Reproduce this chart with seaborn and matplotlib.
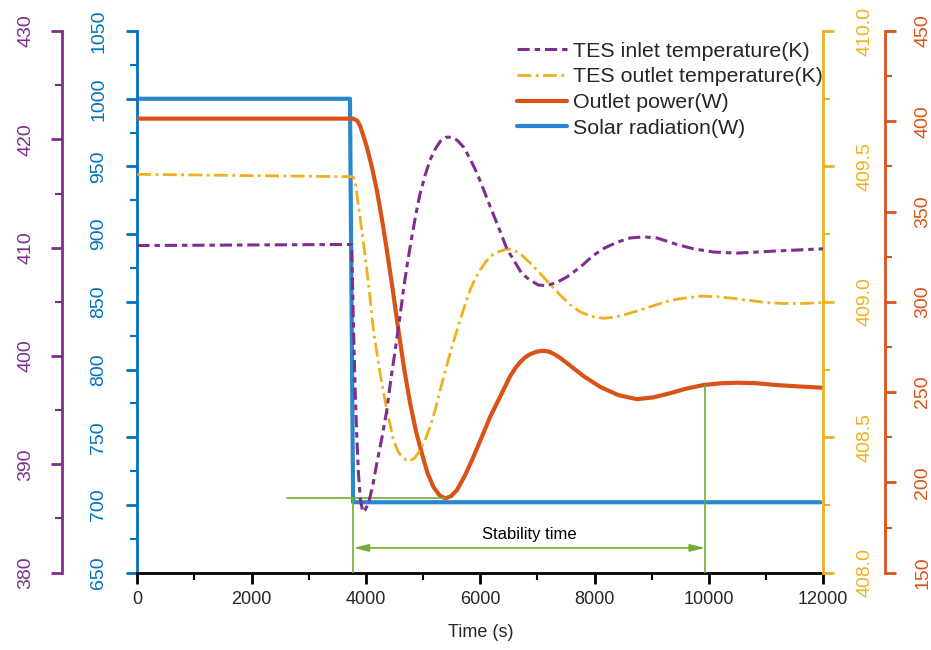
import matplotlib
matplotlib.use("Agg")
import matplotlib.pyplot as plt
from matplotlib import font_manager
from matplotlib.ticker import MultipleLocator, FormatStrFormatter
import seaborn as sns

# ---- data ----
t_solar = [0, 3720, 3775, 11950]
solar = [1000, 1000, 702, 702]

t_power = [0, 3770, 3810, 3850, 3897, 3950, 4014, 4102, 4190, 4277, 4365, 4469, 4568,
           4667, 4772, 4877, 4977, 5075, 5180, 5285, 5385, 5490, 5590, 5735, 5880, 6027,
           6172, 6347, 6440, 6522, 6610, 6697, 6785, 6872, 6975, 7077, 7180, 7280, 7400,
           7515, 7805, 8097, 8418, 8740, 9030, 9322, 9600, 9900, 10200, 10490, 10800,
           11190, 11600, 12000]
power = [401.5, 401.5, 401.0, 400.2, 397.5, 392.5, 385.9, 374.8, 361.9, 346.2, 328.7, 306.5, 284.3,
         263.1, 243.9, 228.0, 216.2, 205.3, 197.5, 192.9, 191.1, 192.4, 195.7, 204.0, 214.2, 225.2,
         236.3, 247.5, 253.5, 258.8, 263.2, 266.6, 269.3, 271.0, 272.3, 272.9, 272.6, 271.3, 268.9,
         266.1, 258.9, 252.9, 248.3, 246.1, 247.1, 249.4, 251.9, 253.9, 254.9, 255.2, 255.0,
         253.9, 253.1, 252.4]

t_inlet = [0, 3750, 3780, 3810, 3840, 3868, 3903, 3945, 3985, 4043, 4113, 4190, 4277, 4365,
           4434, 4510, 4586, 4655, 4726, 4802, 4877, 4947, 5035, 5122, 5210, 5297, 5402,
           5502, 5600, 5705, 5822, 5940, 6055, 6172, 6318, 6465, 6580, 6727, 6872, 7018,
           7165, 7340, 7515, 7747, 7980, 8185, 8390, 8622, 8855, 9090, 9322, 9440, 9730,
           10080, 10490, 11190, 12000]
inlet = [410.2, 410.3, 403.0, 396.9, 392.5, 389.2, 386.7, 385.6, 385.8, 386.4, 387.9, 390.1, 392.4, 395.0,
         397.8, 400.5, 403.3, 406.1, 408.6, 411.0, 413.2, 415.0, 416.7, 418.1, 419.1, 419.8, 420.2,
         420.2, 419.9, 419.3, 418.2, 416.9, 415.4, 413.8, 411.9, 409.9, 408.9, 407.6, 407.0, 406.55,
         406.5, 406.8, 407.3, 408.2, 409.3, 410.0, 410.5, 410.9, 411.0, 410.9, 410.5, 410.3, 409.9,
         409.6, 409.5, 409.7, 409.9]

t_outlet = [0, 3760, 3780, 3822, 3868, 3930, 3985, 4043, 4130, 4247, 4365, 4480, 4560, 4628,
            4700, 4772, 4860, 4947, 5035, 5122, 5210, 5297, 5385, 5472, 5560, 5647, 5735,
            5822, 5910, 5997, 6085, 6172, 6260, 6347, 6435, 6522, 6640, 6755, 6900, 7047,
            7220, 7397, 7570, 7747, 7950, 8155, 8360, 8565, 8770, 8972, 9147, 9322, 9500,
            9847, 10140, 10430, 10720, 11015, 11300, 11597, 12000]
outlet = [409.471, 409.462, 409.46, 409.43, 409.355, 409.26, 409.17, 409.07, 408.896, 408.736,
          408.600, 408.490, 408.448, 408.428, 408.416, 408.413, 408.425, 408.453, 408.49, 408.539,
          408.60, 408.674, 408.742, 408.810, 408.873, 408.933, 408.99, 409.044, 409.085, 409.117,
          409.145, 409.167, 409.180, 409.187, 409.193, 409.195, 409.185, 409.167, 409.138, 409.105,
          409.065, 409.025, 408.990, 408.963, 408.946, 408.939, 408.944, 408.955, 408.968, 408.982,
          408.994, 409.005, 409.012, 409.021, 409.019, 409.013, 409.005, 408.997, 408.994, 408.994,
          408.997]

# stability-time marker (seconds, outlet-power values)
t_stable_start = 3780
t_stable_end = 9935
t_ref_line = [2615, 5385]

# colours
purple = "#7E2F8E"
blue = "#0072BD"
blue_line = "#2887CD"
yellow = "#EDB120"
orange = "#D95319"
green = "#77AC30"

sns.set_style("ticks")
plt.rcParams["font.family"] = ["Liberation Sans", "DejaVu Sans"]
names = {f.name for f in font_manager.fontManager.ttflist}
narrow = "Liberation Sans Narrow" if "Liberation Sans Narrow" in names else "Liberation Sans"

fig = plt.figure(figsize=(9.31, 6.5), dpi=100)
ax = fig.add_axes([0.1475, 0.119, 0.7368, 0.8332])
ax_o = ax.twinx()
ax_y = ax.twinx()
ax_p = ax.twinx()

# lines
sns.lineplot(x=t_solar, y=solar, ax=ax, color=blue_line, linewidth=3.0,
             label="Solar radiation(W)", legend=False)
sns.lineplot(x=t_power, y=power, ax=ax_o, color=orange, linewidth=3.0,
             label="Outlet power(W)", legend=False)
sns.lineplot(x=t_outlet, y=outlet, ax=ax_y, color=yellow, linewidth=2.0,
             linestyle=(0, (5, 1.6, 1, 1.6)), label="TES outlet temperature(K)", legend=False)
sns.lineplot(x=t_inlet, y=inlet, ax=ax_p, color=purple, linewidth=2.2,
             linestyle=(0, (4, 1.6, 1.8, 1.6)), label="TES inlet temperature(K)", legend=False)

# axes ranges
ax.set_xlim(0, 12000)
ax.set_ylim(650, 1050)
ax_o.set_ylim(150, 450)
ax_y.set_ylim(408.0, 410.0)
ax_p.set_ylim(380, 430)

# spines
for a in (ax, ax_o, ax_y, ax_p):
    for s in a.spines.values():
        s.set_visible(False)
        s.set_linewidth(2)

ax.spines["left"].set_visible(True)
ax.spines["left"].set_color(blue)
ax.spines["bottom"].set_visible(True)
ax.spines["bottom"].set_color("black")

ax_y.spines["right"].set_visible(True)
ax_y.spines["right"].set_color(yellow)

ax_o.spines["right"].set_visible(True)
ax_o.spines["right"].set_position(("axes", 1.09))
ax_o.spines["right"].set_color(orange)

ax_p.spines["left"].set_visible(True)
ax_p.spines["left"].set_position(("axes", -0.11))
ax_p.spines["left"].set_color(purple)
ax_p.yaxis.set_ticks_position("left")
ax_p.yaxis.set_label_position("left")

# ticks
ax.xaxis.set_major_locator(MultipleLocator(2000))
ax.xaxis.set_minor_locator(MultipleLocator(1000))
ax.tick_params(axis="x", which="major", direction="out", length=8, width=2, color="black",
               labelsize=13, pad=5)
ax.tick_params(axis="x", which="minor", direction="out", length=5, width=1.5, color="black")
for lab in ax.get_xticklabels():
    lab.set_family(narrow)

specs = [
    (ax, blue, 50, 25, 13.5, None),
    (ax_o, orange, 50, 25, 13, None),
    (ax_y, yellow, 0.5, 0.25, 16, "%.1f"),
    (ax_p, purple, 10, 5, 12, None),
]
for a, c, major, minor, pad, fmt in specs:
    a.yaxis.set_major_locator(MultipleLocator(major))
    a.yaxis.set_minor_locator(MultipleLocator(minor))
    if fmt:
        a.yaxis.set_major_formatter(FormatStrFormatter(fmt))
    a.tick_params(axis="y", which="major", direction="out", length=8, width=2, color=c,
                  labelcolor=c, labelsize=14, pad=pad, labelrotation=90)
    a.tick_params(axis="y", which="minor", direction="out", length=5, width=1.5, color=c)
    for lab in a.get_yticklabels():
        lab.set_verticalalignment("center")

ax.set_xlabel("Time (s)", fontsize=13, family=narrow, labelpad=12)
ax.set_ylabel("")
for a in (ax_o, ax_y, ax_p):
    a.set_ylabel("")

# stability time annotation (drawn in outlet-power coordinates)
ax_o.plot(t_ref_line, [191.1, 191.1], color=green, linewidth=1.2)
ax_o.plot([t_stable_start, t_stable_start], [150, 191.1], color=green, linewidth=1.2)
ax_o.plot([t_stable_end, t_stable_end], [150, 254.0], color=green, linewidth=1.2)
ax_o.annotate("", xy=(t_stable_start, 163.7), xytext=(t_stable_end, 163.7),
              arrowprops=dict(arrowstyle="<|-|>,head_length=0.9,head_width=0.22",
                              color=green, lw=1.2, shrinkA=0, shrinkB=0))
ax_o.text((t_stable_start + t_stable_end) / 2, 171.3, "Stability time",
          ha="center", va="center", fontsize=12, color="black")

# legend collected from all axes
handles, labels = [], []
for a in (ax_p, ax_y, ax_o, ax):
    h, l = a.get_legend_handles_labels()
    handles += h
    labels += l
ax_p.legend(handles, labels, loc="upper right", bbox_to_anchor=(1.015, 1.0), frameon=False,
            fontsize=15.4, handlelength=2.34, handletextpad=0.28, labelspacing=0.31,
            borderaxespad=0.1)

fig.savefig("out.png", dpi=100)
